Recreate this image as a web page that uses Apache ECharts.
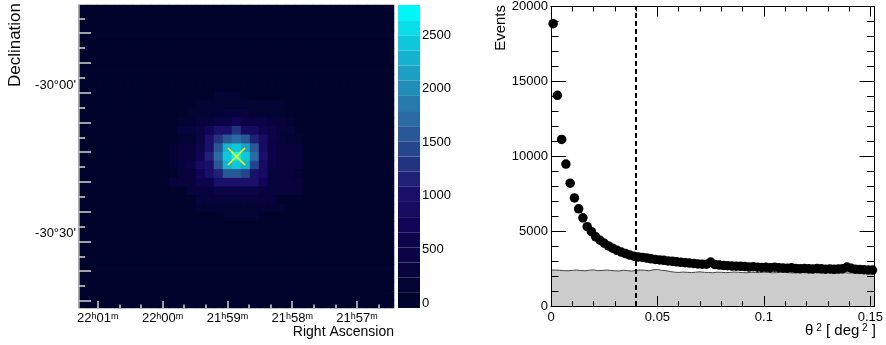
<!DOCTYPE html>
<html><head><meta charset="utf-8">
<script src="https://cdn.jsdelivr.net/npm/echarts@6/dist/echarts.min.js"></script>
<style>html,body{margin:0;padding:0;background:#fff}#c{width:886px;height:345px}</style>
</head><body><div id="c"></div>
<script>
// ---------------- DATA ----------------
// Sky map counts: 35 rows (top = north) x 35 columns (left = larger RA)
const counts = [
[20,20,20,20,20,20,20,20,20,20, 20,20,20,20,20,20,20,20,20,20, 20,20,20,20,20,20,20,20,20,20, 20,20,20,20,20],
[20,20,20,20,20,20,20,20,20,20, 20,20,20,20,20,20,20,20,20,20, 20,20,20,20,20,20,20,20,20,20, 20,20,20,20,20],
[20,20,20,20,20,20,20,20,20,20, 20,20,20,20,20,20,20,20,20,20, 20,20,20,20,20,20,20,20,20,20, 20,20,20,20,20],
[20,20,20,20,20,20,20,20,20,20, 20,20,20,20,20,20,20,20,20,20, 20,20,20,20,20,20,20,20,20,20, 20,20,20,20,20],
[20,20,20,20,20,20,20,20,20,20, 20,20,20,20,20,20,20,20,20,20, 20,20,20,20,20,20,20,20,20,20, 20,20,20,20,20],
[20,20,20,20,20,20,20,20,20,20, 20,20,20,20,20,20,20,20,20,20, 20,20,20,20,20,20,20,20,20,20, 20,20,20,20,20],
[20,20,20,20,20,20,20,20,20,20, 20,20,20,20,20,20,20,20,20,20, 20,20,20,20,20,20,20,20,20,20, 20,20,20,20,20],
[20,20,20,20,20,20,20,20,20,20, 20,20,20,20,20,20,20,20,20,20, 20,20,20,20,20,20,20,20,20,20, 20,20,20,20,20],
[20,20,20,20,20,20,20,20,20,20, 20,20,20,20,20,20,20,20,20,20, 20,20,20,20,20,20,20,20,20,20, 20,20,20,20,20],
[20,20,20,20,20,20,20,20,20,20, 20,20,20,20,20,20,20,20,20,20, 20,20,20,20,20,20,20,20,20,20, 20,20,20,20,20],
[20,20,20,20,20,20,20,20,20,20, 20,20,20,20,20,150,150,150,20,20, 20,20,20,20,20,20,20,20,20,20, 20,20,20,20,20],
[20,20,20,20,20,20,20,20,20,20, 20,20,20,170,170,170,170,220,170,170, 170,170,170,20,20,20,20,20,20,20, 20,20,20,20,20],
[20,20,20,20,20,20,20,20,20,20, 20,20,180,180,180,180,330,330,330,180, 180,180,180,20,20,20,20,20,20,20, 20,20,20,20,20],
[20,20,20,20,20,20,20,20,20,20, 20,220,220,300,300,520,520,800,520,520, 520,300,300,220,20,20,20,20,20,20, 20,20,20,20,20],
[20,20,20,20,20,20,20,20,20,20, 20,250,250,400,700,960,960,1350,930,930, 600,400,250,250,20,20,20,20,20,20, 20,20,20,20,20],
[20,20,20,20,20,20,20,20,20,20, 20,230,230,450,1000,1290,1580,1720,1550,1150, 920,500,300,230,230,20,20,20,20,20, 20,20,20,20,20],
[20,20,20,20,20,20,20,20,20,20, 200,300,300,600,1000,1620,2250,2420,2200,1580, 900,500,250,250,250,20,20,20,20,20, 20,20,20,20,20],
[20,20,20,20,20,20,20,20,20,20, 100,350,350,700,1150,1720,2450,2780,2440,1720, 960,520,300,300,300,20,20,20,20,20, 20,20,20,20,20],
[20,20,20,20,20,20,20,20,20,20, 200,330,450,850,1050,1590,2300,2380,2230,1500, 900,500,250,250,250,20,20,20,20,20, 20,20,20,20,20],
[20,20,20,20,20,20,20,20,20,20, 60,250,250,800,1000,1150,1530,1640,1450,1030, 850,280,280,280,200,20,20,20,20,20, 20,20,20,20,20],
[20,20,20,20,20,20,20,20,20,20, 300,300,300,650,650,960,960,1000,960,960, 700,250,250,250,250,20,20,20,20,20, 20,20,20,20,20],
[20,20,20,20,20,20,20,20,20,20, 20,20,250,250,250,400,400,400,400,400, 250,250,250,250,250,20,20,20,20,20, 20,20,20,20,20],
[20,20,20,20,20,20,20,20,20,20, 20,20,20,250,250,250,250,250,250,250, 250,250,20,20,20,20,20,20,20,20, 20,20,20,20,20],
[20,20,20,20,20,20,20,20,20,20, 20,20,20,200,200,200,200,200,200,200, 200,200,200,20,20,20,20,20,20,20, 20,20,20,20,20],
[20,20,20,20,20,20,20,20,20,20, 20,20,20,20,20,20,170,170,170,170, 20,20,20,20,20,20,20,20,20,20, 20,20,20,20,20],
[20,20,20,20,20,20,20,20,20,20, 20,20,20,20,20,20,20,20,20,20, 20,20,20,20,20,20,20,20,20,20, 20,20,20,20,20],
[20,20,20,20,20,20,20,20,20,20, 20,20,20,20,20,20,20,20,20,20, 20,20,20,20,20,20,20,20,20,20, 20,20,20,20,20],
[20,20,20,20,20,20,20,20,20,20, 20,20,20,20,20,20,20,20,20,20, 20,20,20,20,20,20,20,20,20,20, 20,20,20,20,20],
[20,20,20,20,20,20,20,20,20,20, 20,20,20,20,20,20,20,20,20,20, 20,20,20,20,20,20,20,20,20,20, 20,20,20,20,20],
[20,20,20,20,20,20,20,20,20,20, 20,20,20,20,20,20,20,20,20,20, 20,20,20,20,20,20,20,20,20,20, 20,20,20,20,20],
[20,20,20,20,20,20,20,20,20,20, 20,20,20,20,20,20,20,20,20,20, 20,20,20,20,20,20,20,20,20,20, 20,20,20,20,20],
[20,20,20,20,20,20,20,20,20,20, 20,20,20,20,20,20,20,20,20,20, 20,20,20,20,20,20,20,20,20,20, 20,20,20,20,20],
[20,20,20,20,20,20,20,20,20,20, 20,20,20,20,20,20,20,20,20,20, 20,20,20,20,20,20,20,20,20,20, 20,20,20,20,20],
[20,20,20,20,20,20,20,20,20,20, 20,20,20,20,20,20,20,20,20,20, 20,20,20,20,20,20,20,20,20,20, 20,20,20,20,20],
[20,20,20,20,20,20,20,20,20,20, 20,20,20,20,20,20,20,20,20,20, 20,20,20,20,20,20,20,20,20,20, 20,20,20,20,20]
];
const countRange = [-45, 2780];
const colorLevels = 20;
const palette = ['#00032b','#080340','#110455','#1a116b','#243d86','#2c68a1','#2091b9','#12bed4','#00f7f7'];
const colorbarTicks = [0, 500, 1000, 1500, 2000, 2500];
const sourceCell = [17, 17];

// RA axis in minutes after 21h, Dec axis in arcminutes
const raRange = [56.43, 61.29];
const raMajor = [61, 60, 59, 58, 57];
const raLabels = [['22','01'], ['22','00'], ['21','59'], ['21','58'], ['21','57']];
const raMinor = [60.667, 60.333, 59.667, 59.333, 58.667, 58.333, 57.667, 57.333, 56.667];
const decRange = [-1845.2, -1783.6];
const decLabelValues = [-1800, -1830];
const decLabels = ["-30°00'", "-30°30'"];
const decMajor = [-1789.32, -1795.37, -1801.42, -1807.47, -1813.52, -1819.56, -1825.61, -1831.66, -1837.71, -1843.76];
const decMinor = [-1786.30, -1792.35, -1798.40, -1804.44, -1810.49, -1816.54, -1822.59, -1828.64, -1834.69, -1840.73];

// theta^2 distribution
const theta2 = [0.001,0.003,0.005,0.007,0.009,0.011,0.013,0.015,0.017,0.019,
0.021,0.023,0.025,0.027,0.029,0.031,0.033,0.035,0.037,0.039,
0.041,0.043,0.045,0.047,0.049,0.051,0.053,0.055,0.057,0.059,
0.061,0.063,0.065,0.067,0.069,0.071,0.073,0.075,0.077,0.079,
0.081,0.083,0.085,0.087,0.089,0.091,0.093,0.095,0.097,0.099,
0.101,0.103,0.105,0.107,0.109,0.111,0.113,0.115,0.117,0.119,
0.121,0.123,0.125,0.127,0.129,0.131,0.133,0.135,0.137,0.139,
0.141,0.143,0.145,0.147,0.149,0.151];
const onEvents = [18850,14070,11120,9480,8200,7220,6490,5890,5300,4960,
4620,4390,4190,4010,3860,3720,3600,3500,3400,3330,
3280,3240,3200,3150,3110,3080,3050,3010,2980,2950,
2920,2890,2870,2840,2810,2790,2790,2930,2770,2730,
2710,2690,2670,2660,2650,2630,2600,2620,2590,2570,
2580,2560,2590,2560,2540,2520,2550,2500,2480,2510,
2490,2470,2500,2480,2460,2470,2450,2470,2490,2600,
2520,2460,2440,2420,2400,2400];
const offEvents = [2400,2390,2360,2350,2380,2400,2370,2350,2390,2410,
2360,2370,2400,2380,2350,2340,2390,2360,2330,2380,
2400,2390,2350,2420,2440,2380,2360,2300,2260,2240,
2270,2250,2230,2260,2280,2250,2240,2220,2260,2250,
2230,2240,2270,2250,2230,2220,2250,2240,2230,2260,
2240,2220,2230,2250,2240,2220,2210,2230,2240,2220,
2200,2230,2210,2220,2240,2200,2210,2190,2220,2200,
2210,2190,2200,2180,2170,2160];
const binWidth = 0.002;
const theta2Range = [0, 0.152];
const theta2Cut = 0.04;
const xTicks = [0, 0.05, 0.1, 0.15];
const xTickLabels = ['0', '0.05', '0.1', '0.15'];
const yRange = [0, 20000];
const yTicks = [0, 5000, 10000, 15000, 20000];

// ---------------- BUILD ----------------
const FONT = 'Liberation Sans, Arial, sans-serif';
const heatData = [];
counts.forEach((row, r) => row.forEach((v, c) => heatData.push([c, r, v])));
const colIdx = counts[0].map((_, i) => String(i));
const rowIdx = counts.map((_, i) => String(i));
const histData = theta2.map((t, i) => [+(t - binWidth / 2).toFixed(4), offEvents[i]]);
histData.push([theta2Range[1], offEvents[offEvents.length - 1]]);
const pointData = theta2.map((t, i) => [t, onEvents[i]]);
const plain = v => String(v);

const tickGray = '#d4d4d4';

const chart = echarts.init(document.getElementById('c'), null, { renderer: 'canvas' });
chart.setOption({
  animation: false,
  textStyle: { fontFamily: FONT },
  grid: [
    { left: 79, top: 5, width: 315, height: 303, show: true, backgroundColor: palette[0], borderWidth: 0 },
    { left: 398, top: 5, width: 22, height: 303 },
    { left: 551, top: 5, width: 326, height: 301 }
  ],
  xAxis: [
    { gridIndex: 0, type: 'category', data: colIdx, show: false },
    { gridIndex: 0, type: 'value', inverse: true, min: raRange[0], max: raRange[1], position: 'bottom', z: 10,
      axisLine: { show: false, onZero: false }, splitLine: { show: false },
      axisTick: { inside: true, length: 7, lineStyle: { color: tickGray, width: 1.5 }, customValues: raMajor },
      axisLabel: { customValues: raMajor, margin: 4, color: '#000', fontSize: 13, fontFamily: FONT,
        formatter: v => { const l = raLabels[raMajor.indexOf(v)]; return l ? l[0] + '{s|h}' + l[1] + '{s|m}' : ''; },
        rich: { s: { fontSize: 9, verticalAlign: 'top', lineHeight: 10, fontFamily: FONT, color: '#000' } } } },
    { gridIndex: 0, type: 'value', inverse: true, min: raRange[0], max: raRange[1], position: 'bottom', z: 10,
      axisLine: { show: false, onZero: false }, splitLine: { show: false }, axisLabel: { show: false },
      axisTick: { inside: true, length: 3.5, lineStyle: { color: tickGray, width: 1.5 }, customValues: raMinor } },
    { gridIndex: 1, type: 'category', data: ['c'], show: false },
    { gridIndex: 2, type: 'value', min: theta2Range[0], max: theta2Range[1], interval: 0.05, position: 'bottom', z: 10,
      axisLine: { onZero: false, lineStyle: { color: '#000', width: 1 } }, splitLine: { show: false },
      axisTick: { inside: true, length: 10, lineStyle: { color: '#000' } },
      minorTick: { show: true, splitNumber: 5, length: 5, lineStyle: { color: '#000' } },
      axisLabel: { customValues: xTicks, margin: 5, color: '#000', fontSize: 13, fontFamily: FONT,
        formatter: v => xTickLabels[xTicks.indexOf(v)] ?? '' } },
    { gridIndex: 2, type: 'value', min: theta2Range[0], max: theta2Range[1], interval: 0.05, position: 'top', z: 10,
      axisLine: { onZero: false, lineStyle: { color: '#000', width: 1 } }, splitLine: { show: false },
      axisTick: { inside: true, length: 10, lineStyle: { color: '#000' } },
      minorTick: { show: true, splitNumber: 5, length: 5, lineStyle: { color: '#000' } },
      axisLabel: { show: false } }
  ],
  yAxis: [
    { gridIndex: 0, type: 'category', data: rowIdx, inverse: true, show: false },
    { gridIndex: 0, type: 'value', min: decRange[0], max: decRange[1], position: 'left', z: 10,
      axisLine: { show: true, onZero: false, lineStyle: { color: '#a8a8a8', width: 1.5 } }, splitLine: { show: false },
      axisTick: { inside: true, length: 12, lineStyle: { color: tickGray, width: 1.5 }, customValues: decMajor },
      axisLabel: { customValues: decLabelValues, margin: 3, color: '#000', fontSize: 13, fontFamily: FONT,
        formatter: v => decLabels[decLabelValues.indexOf(v)] ?? '' } },
    { gridIndex: 0, type: 'value', min: decRange[0], max: decRange[1], position: 'left', z: 10,
      axisLine: { show: false, onZero: false }, splitLine: { show: false }, axisLabel: { show: false },
      axisTick: { inside: true, length: 6, lineStyle: { color: tickGray, width: 1.5 }, customValues: decMinor } },
    { gridIndex: 1, type: 'value', min: countRange[0], max: countRange[1], position: 'right', z: 10,
      axisLine: { show: false, onZero: false }, splitLine: { show: false },
      axisTick: { inside: true, length: 13, lineStyle: { color: '#000', width: 1.2 }, customValues: colorbarTicks },
      axisLabel: { customValues: colorbarTicks, margin: 2, color: '#000', fontSize: 13, fontFamily: FONT, formatter: plain } },
    { gridIndex: 2, type: 'value', min: yRange[0], max: yRange[1], interval: 5000, position: 'left', z: 10,
      axisLine: { show: true, onZero: false, lineStyle: { color: '#000', width: 1 } }, splitLine: { show: false },
      axisTick: { inside: true, length: 15, lineStyle: { color: '#000' } },
      minorTick: { show: true, splitNumber: 5, length: 7.5, lineStyle: { color: '#000' } },
      axisLabel: { customValues: yTicks, margin: 3, color: '#000', fontSize: 13, fontFamily: FONT, formatter: plain } },
    { gridIndex: 2, type: 'value', min: yRange[0], max: yRange[1], interval: 5000, position: 'right', z: 10,
      axisLine: { show: true, onZero: false, lineStyle: { color: '#000', width: 1 } }, splitLine: { show: false },
      axisTick: { inside: true, length: 15, lineStyle: { color: '#000' } },
      minorTick: { show: true, splitNumber: 5, length: 7.5, lineStyle: { color: '#000' } },
      axisLabel: { show: false } }
  ],
  visualMap: [{
    type: 'piecewise', seriesIndex: 0, min: countRange[0], max: countRange[1], splitNumber: colorLevels,
    orient: 'vertical', left: 398, top: 5, padding: 0, itemWidth: 22, itemHeight: 303 / colorLevels, itemGap: 0,
    itemSymbol: 'rect', showLabel: false, selectedMode: false, hoverLink: false,
    inRange: { color: palette }
  }],
  series: [
    { type: 'heatmap', xAxisIndex: 0, yAxisIndex: 0, data: heatData, emphasis: { disabled: true }, itemStyle: { borderWidth: 0 } },
    { type: 'scatter', xAxisIndex: 0, yAxisIndex: 0, data: [sourceCell], symbol: 'path://M0,0L10,10M10,0L0,10', symbolSize: 17,
      itemStyle: { color: 'none', borderColor: '#ffff00', borderWidth: 1.6, opacity: 1 }, z: 5, silent: true },
    { type: 'line', xAxisIndex: 4, yAxisIndex: 4, data: histData, step: 'end', symbol: 'none', silent: true,
      lineStyle: { color: '#444', width: 1 }, areaStyle: { color: '#cccccc', opacity: 1 }, z: 2 },
    { type: 'scatter', xAxisIndex: 4, yAxisIndex: 4, data: pointData, symbol: 'circle', symbolSize: 9.5, silent: true,
      itemStyle: { color: '#000', opacity: 1 }, z: 3,
      markLine: { silent: true, symbol: 'none', label: { show: false }, lineStyle: { color: '#000', width: 2, type: [5, 3], opacity: 1 },
        data: [{ xAxis: theta2Cut }] } }
  ],
  graphic: [
    { type: 'text', x: 15, y: 3, rotation: Math.PI / 2, style: { text: 'Declination', font: '17px ' + FONT, fill: '#000', align: 'right', verticalAlign: 'middle' } },
    { type: 'text', x: 394, y: 332, style: { text: 'Right Ascension', font: '14px ' + FONT, fill: '#000', align: 'right', verticalAlign: 'middle' } },
    { type: 'text', x: 501, y: 5, rotation: Math.PI / 2, style: { text: 'Events', font: '15px ' + FONT, fill: '#000', align: 'right', verticalAlign: 'middle' } },
    { type: 'text', x: 876, y: 331, style: { text: 'θ{s| 2} [ deg{s| 2} ]', font: '15px ' + FONT, fill: '#000', align: 'right', verticalAlign: 'middle',
      rich: { s: { fontSize: 10, verticalAlign: 'top', lineHeight: 10, fontFamily: FONT, fill: '#000' } } } }
  ]
});
</script></body></html>
